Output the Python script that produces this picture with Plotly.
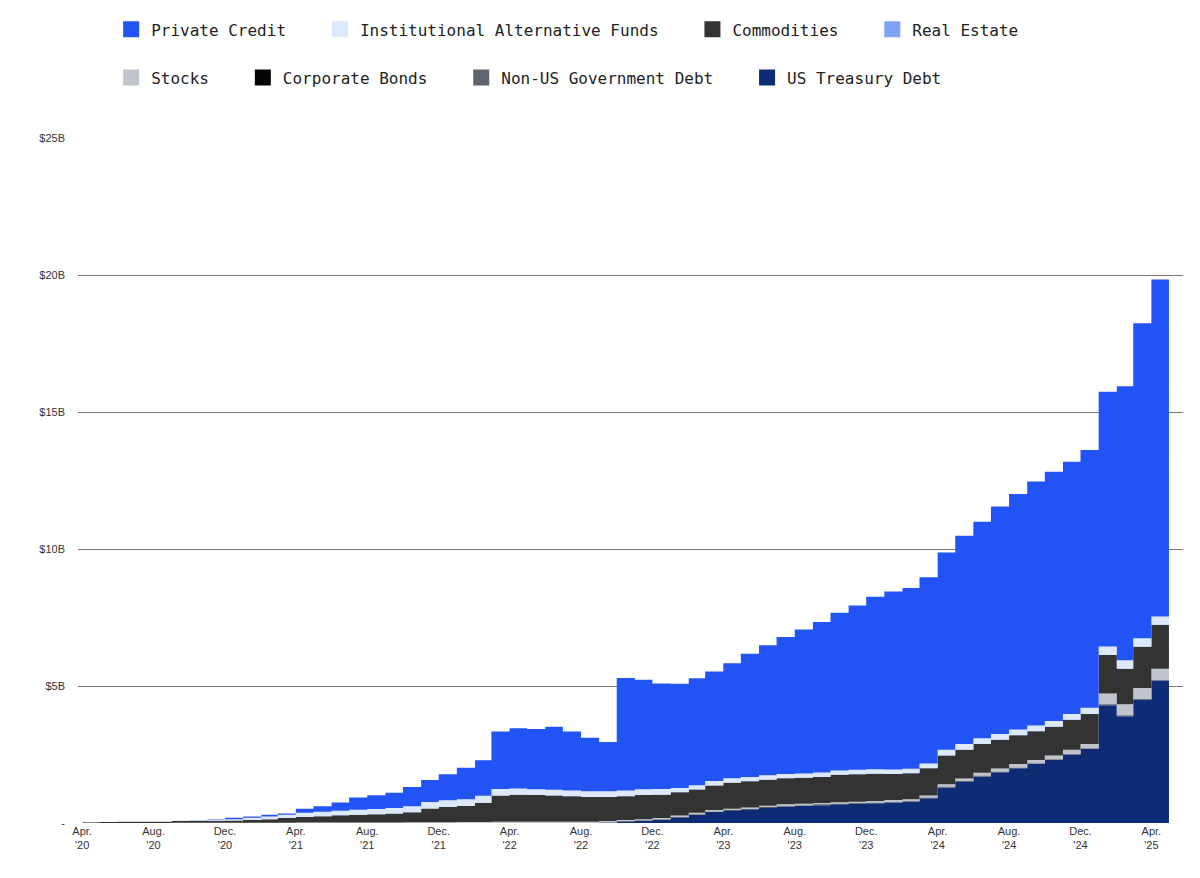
import pandas as pd
import plotly.graph_objects as go

dates = pd.date_range("2020-04-01", "2025-05-01", freq="MS")

us_treasury = [0]*29 + [0.02,0.05,0.08,0.12,
 0.2,0.3,0.4,0.45,0.5,0.55,0.6,0.62,0.65,0.68,0.7,0.72,
 0.75,0.78,0.9,1.3,1.5,1.7,1.85,2.0,2.15,2.3,2.5,2.7,
 4.3,3.9,4.5,5.2,6.2]
non_us_gov = [0.0]*18 + [0.01]*20 + [0.02]*24
corporate_bonds = [0.0]*30 + [0.01]*32
stocks = [0.0,0.0,0.0,0.0,0.0,0.01,0.01,0.01,0.01,
 0.01,0.01,0.01,0.02,0.02,0.02,0.02,0.02,0.02,0.02,0.02,0.02,
 0.03,0.03,0.04,0.04,0.04,0.04,0.04,0.04,0.04,0.04,0.04,0.04,
 0.05,0.05,0.05,0.05,0.05,0.05,0.05,0.05,0.05,0.05,0.05,0.05,
 0.06,0.06,0.07,0.08,0.09,0.1,0.11,0.12,0.12,0.13,0.14,0.15,
 0.4,0.4,0.4,0.4,0.45]
commodities = [0.03,0.04,0.05,0.05,0.05,0.06,0.06,0.07,0.08,
 0.1,0.13,0.17,0.2,0.23,0.26,0.28,0.3,0.33,0.36,0.5,0.55,
 0.58,0.7,0.95,0.98,0.97,0.95,0.93,0.9,0.88,0.87,0.88,0.85,
 0.85,0.85,0.9,0.95,0.95,0.95,0.95,0.95,0.95,1.0,1.0,1.0,
 0.95,0.95,1.0,1.05,1.05,1.05,1.05,1.05,1.05,1.05,1.1,1.1,
 1.4,1.3,1.5,1.6,1.8]
real_estate = [0.0]*24 + [0.01]*38
inst_alt_funds = [0.01,0.01,0.01,0.01,0.01,0.02,0.02,0.03,0.05,
 0.08,0.1,0.12,0.15,0.16,0.17,0.18,0.19,0.2,0.22,0.24,0.25,
 0.25,0.25,0.24,0.22,0.2,0.2,0.2,0.2,0.2,0.2,0.2,0.2,
 0.15,0.15,0.15,0.15,0.15,0.15,0.15,0.15,0.15,0.15,0.15,0.15,
 0.15,0.15,0.16,0.2,0.2,0.2,0.2,0.2,0.2,0.2,0.2,0.22,
 0.3,0.3,0.3,0.3,0.3]
private_credit = [0,0,0,0,0,0,0.01,0.02,0.05,
 0.05,0.06,0.05,0.15,0.2,0.3,0.45,0.5,0.55,0.7,0.8,0.95,
 1.15,1.3,2.1,2.2,2.2,2.3,2.15,1.95,1.8,4.1,4.0,3.85,
 3.8,3.9,4.0,4.2,4.5,4.75,5.0,5.25,5.5,5.75,6.0,6.3,
 6.5,6.6,6.8,7.2,7.6,7.9,8.3,8.6,8.9,9.1,9.2,9.4,
 9.3,10.0,11.5,12.3,12.7]

series = [
    ("US Treasury Debt", us_treasury, "#0d2c75", "legend2"),
    ("Non-US Government Debt", non_us_gov, "#5f6570", "legend2"),
    ("Corporate Bonds", corporate_bonds, "#050505", "legend2"),
    ("Stocks", stocks, "#c0c4cc", "legend2"),
    ("Commodities", commodities, "#333333", "legend"),
    ("Real Estate", real_estate, "#7ea3f5", "legend"),
    ("Institutional Alternative Funds", inst_alt_funds, "#dce8fb", "legend"),
    ("Private Credit", private_credit, "#2253f5", "legend"),
]
rank = {"Private Credit":1,"Institutional Alternative Funds":2,"Commodities":3,"Real Estate":4,
        "Stocks":5,"Corporate Bonds":6,"Non-US Government Debt":7,"US Treasury Debt":8}

fig = go.Figure()
for name, vals, color, lg in series:
    fig.add_trace(go.Scatter(x=dates, y=vals, name=name, stackgroup="one",
        mode="lines", line=dict(width=0, color=color, shape="hv"), fillcolor=color,
        showlegend=False, hoverinfo="skip"))
for name, vals, color, lg in series:
    fig.add_trace(go.Scatter(x=[None], y=[None], name=name + "   ", mode="markers",
        marker=dict(symbol="square", size=22, color=color),
        legend=lg, legendrank=rank[name], showlegend=True))

tick_dates = pd.date_range("2020-04-01", "2025-04-01", freq="4MS")
tick_text = [d.strftime("%b.") + "<br>'" + d.strftime("%y") for d in tick_dates]

legfont = dict(family="DejaVu Sans Mono", size=16, color="#222")
fig.update_layout(
    width=1200, height=878, paper_bgcolor="white", plot_bgcolor="white",
    margin=dict(l=70, r=25, t=130, b=63, autoexpand=False),
    showlegend=True,
    legend=dict(orientation="h", x=0.03, xanchor="left", y=0.995, yref="container",
                yanchor="top", font=legfont, itemwidth=30, traceorder="normal"),
    legend2=dict(orientation="h", x=0.03, xanchor="left", y=0.94, yref="container",
                 yanchor="top", font=legfont, itemwidth=30, traceorder="normal"),
    xaxis=dict(range=["2020-03-25", "2025-05-25"], tickvals=tick_dates, ticktext=tick_text,
               showgrid=False, tickfont=dict(family="Liberation Sans", size=11, color="#333"),
               ticks="", showline=False, zeroline=False),
    yaxis=dict(range=[0, 25], tickvals=[0,5,10,15,20,25],
               ticktext=["-","$5B","$10B","$15B","$20B","$25B"],
               showgrid=True, gridcolor="#777", gridwidth=1, zeroline=False,
               tickfont=dict(family="Liberation Sans", size=11, color="#333"),
               ticklabelstandoff=12),
)
fig.write_html("out.html")
